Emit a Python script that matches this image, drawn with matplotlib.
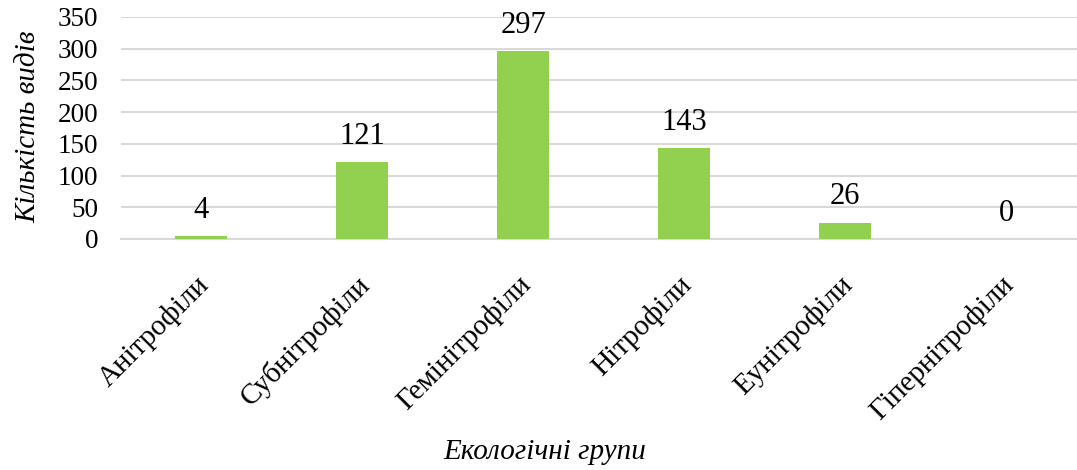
import matplotlib
matplotlib.use("Agg")
import matplotlib.pyplot as plt
from matplotlib.transforms import ScaledTranslation

categories = ["Анітрофіли", "Субнітрофіли", "Гемінітрофіли", "Нітрофіли", "Еунітрофіли", "Гіпернітрофіли"]
species_counts = [4, 121, 297, 143, 26, 0]
y_ticks = [0, 50, 100, 150, 200, 250, 300, 350]

plt.rcParams["font.family"] = ["Liberation Serif", "DejaVu Serif"]

W, H = 1077, 470
fig = plt.figure(figsize=(W / 100, H / 100), dpi=100)

# axes in pixel geometry: category bands 161 px wide starting at x=120.5
left, right = 120.5, 1086.5
top, bottom = 17, 239
ax = fig.add_axes([left / W, 1 - bottom / H, (right - left) / W, (bottom - top) / H])

bar_color = "#92D050"
grid_color = "#D9D9D9"
x = list(range(len(categories)))
ax.bar(x, species_counts, width=0.323, color=bar_color, zorder=3)

ax.set_xlim(-0.5, len(categories) - 0.5)
ax.set_ylim(0, 350)
ax.set_yticks(y_ticks)
ax.set_yticklabels([str(t) for t in y_ticks], fontsize=19.5)
ax.yaxis.grid(True, color=grid_color, linewidth=1.5, zorder=0)
ax.set_axisbelow(True)
for s in ["top", "right", "left"]:
    ax.spines[s].set_visible(False)
ax.spines["bottom"].set_color(grid_color)
ax.spines["bottom"].set_linewidth(1.5)
ax.tick_params(axis="both", length=0)
ax.tick_params(axis="y", pad=16)

ax.set_xticks(x)
ax.set_xticklabels(categories, rotation=45, ha="right", rotation_mode="anchor", fontsize=21)
ax.tick_params(axis="x", pad=20)
shift = ScaledTranslation(-6 / 100, -4 / 100, fig.dpi_scale_trans)
for lbl in ax.get_xticklabels():
    lbl.set_transform(lbl.get_transform() + shift)

for xi, v in zip(x, species_counts):
    ax.annotate(str(v), (xi, v), xytext=(0, 8), textcoords="offset points",
                ha="center", va="bottom", fontsize=22)

fig.text(28 / W, 1 - 127 / H, "Кількість видів", fontsize=21, style="italic",
         rotation=90, ha="center", va="center")
fig.text(545 / W, 1 - 452 / H, "Екологічні групи", fontsize=21, style="italic",
         ha="center", va="center")

fig.savefig("out.png", dpi=100)
